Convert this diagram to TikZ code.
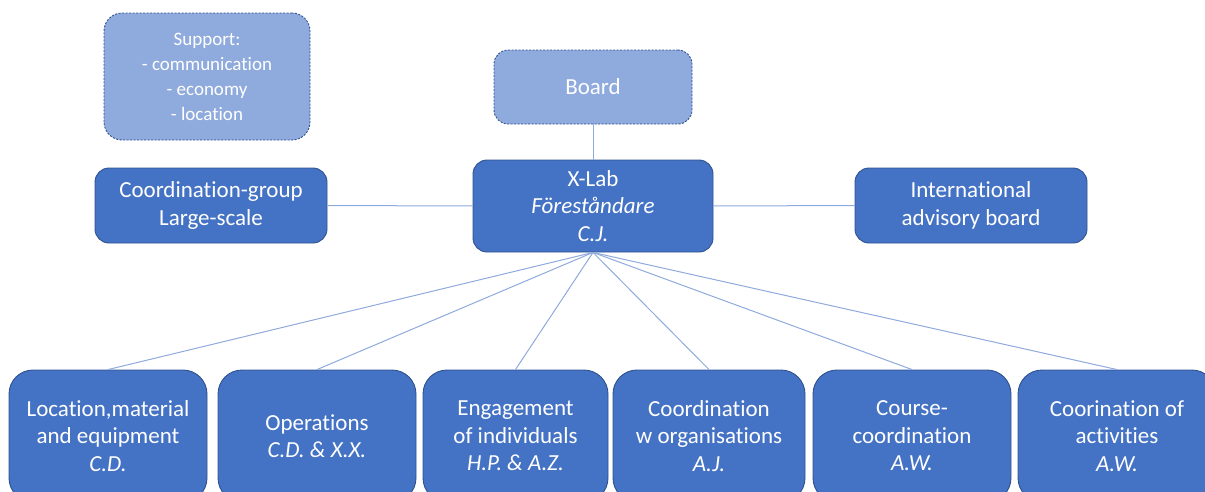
\documentclass[tikz,border=0pt]{standalone}
\usepackage{fontspec}
\setmainfont{Carlito}[Ligatures=NoCommon]
\definecolor{boxblue}{HTML}{4472C4}
\definecolor{boxedge}{HTML}{2F528F}
\definecolor{lightblue}{HTML}{8FAADC}
\definecolor{linkblue}{HTML}{8FAADC}
\tikzset{
  darkbox/.style={draw=boxedge, line width=0.9pt, fill=boxblue, text=white, rounded corners=14pt, align=center, inner sep=2pt, font=\fontsize{23}{27.5}\selectfont},
  lowbox/.style={darkbox, rounded corners=24pt},
  lightbox/.style={draw=boxedge, line width=0.9pt, dashed, dash pattern=on 2pt off 1.5pt, fill=lightblue, text=white, rounded corners=18pt, align=center, inner sep=2pt},
  link/.style={draw=linkblue, line width=1pt}
}
\begin{document}
\begin{tikzpicture}[x=1pt,y=-1pt]
\useasboundingbox (0,0) rectangle (1205,491);
\clip (0,0) rectangle (1205,491);
\node[lightbox, minimum width=206pt, minimum height=127pt, font=\fontsize{19}{25}\selectfont] (support) at (207,76.5) {Support:\\- communication\\- economy\\- location};
\node[lightbox, minimum width=198pt, minimum height=74pt, rounded corners=14pt, font=\fontsize{23}{27.5}\selectfont] (board) at (593,87) {Board};
\node[darkbox, minimum width=232pt, minimum height=75pt] (coord) at (211,205.5) {Coordination-group\\Large-scale};
\node[darkbox, minimum width=240pt, minimum height=92pt] (xlab) at (593,206) {X-Lab\\\textit{Föreståndare}\\\textit{C.J.}};
\node[darkbox, minimum width=232pt, minimum height=75pt] (intl) at (971,205.5) {International\\advisory board};
\node[lowbox, minimum width=198pt, minimum height=132pt] (b1) at (108,436) {Location,material\\and equipment\\\textit{C.D.}};
\node[lowbox, minimum width=198pt, minimum height=132pt] (b2) at (317,436) {Operations\\\textit{C.D. \& X.X.}};
\node[lowbox, minimum width=185pt, minimum height=132pt] (b3) at (515.5,436) {Engagement\\of individuals\\\textit{H.P. \& A.Z.}};
\node[lowbox, minimum width=192pt, minimum height=132pt] (b4) at (709,436) {Coordination\\w organisations\\\textit{A.J.}};
\node[lowbox, minimum width=198pt, minimum height=132pt] (b5) at (912,436) {Course-\\coordination\\\textit{A.W.}};
\node[lowbox, minimum width=198pt, minimum height=132pt] (b6) at (1117,436) {Coorination of\\activities\\\textit{A.W.}};
\draw[link] (board) -- (xlab);
\draw[link] (coord) -- (xlab);
\draw[link] (xlab) -- (intl);
\foreach \b in {b1,b2,b3,b4,b5,b6} \draw[link] (xlab.south) -- (\b.north);
\end{tikzpicture}
\end{document}
